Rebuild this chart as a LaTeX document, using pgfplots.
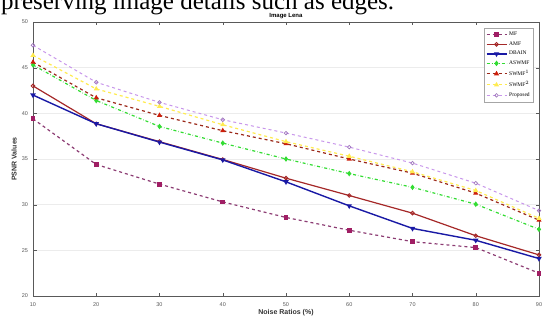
\documentclass[border=0pt]{standalone}
\usepackage{fontspec}
\setmainfont{Liberation Sans}
\newfontfamily\serif{Liberation Serif}
\usepackage{pgfplots}
\pgfplotsset{compat=1.18}
\definecolor{cMF}{RGB}{140,60,115}
\definecolor{cMFm}{RGB}{160,30,100}
\definecolor{cAMF}{RGB}{165,40,40}
\definecolor{cDB}{RGB}{25,25,165}
\definecolor{cAS}{RGB}{50,220,50}
\definecolor{cS1}{RGB}{155,40,25}
\definecolor{cS1m}{RGB}{205,30,10}
\definecolor{cS2}{RGB}{255,235,80}
\definecolor{cPr}{RGB}{200,150,235}
\begin{document}
\begin{tikzpicture}
\clip (0pt,0pt) rectangle (543pt,-320pt);
\node[anchor=base west, inner sep=0pt, font=\serif\fontsize{25}{25}\selectfont] at (1pt,-10pt) {preserving image details such as edges.};
\begin{axis}[
  at={(33pt,-296pt)}, anchor=south west,
  scale only axis, width=506pt, height=274pt,
  xmin=10, xmax=90, ymin=20, ymax=50,
  xtick={10,20,...,90}, ytick={20,25,...,50},
  tick align=inside, major tick length=3.5pt,
  axis line style={gray!70!black, line width=0.6pt},
  tick style={gray!70!black},
  ymajorgrids, grid style={gray!15, line width=0.5pt},
  /pgf/number format/assume math mode=true,
  tick label style={font=\fontsize{5.5}{6}\selectfont, text=gray!70!black},
  xticklabel style={yshift=-3.5pt},
  yticklabel style={xshift=-1.5pt},
  title={Image Lena},
  title style={font=\bfseries\fontsize{6}{7}\selectfont, inner sep=0pt, at={(0.5,1)}, anchor=south, yshift=-3pt},
  xlabel={Noise Ratios (\%)},
  ylabel={PSNR Values},
  label style={font=\bfseries\fontsize{7}{8}\selectfont, text=black!80},
  xlabel style={at={(axis description cs:0.5,-0.062)}, anchor=center},
  ylabel style={at={(axis description cs:-0.0375,0.5)}, anchor=center},
  legend style={at={(0.990,0.978)}, anchor=north east, draw=gray!70, line width=0.5pt,
     font=\serif\fontsize{5.5}{6.5}\selectfont, inner sep=2pt, row sep=0.4pt, cells={anchor=west}},
  legend image code/.code={\draw[mark repeat=2,mark phase=2] plot coordinates {(0pt,0pt) (10pt,0pt) (20pt,0pt)};},
  mark size=1.8pt,
]
\addplot[cMF, dashed, line width=1.2pt, mark=square*, mark options={solid, fill=cMFm, draw=cMFm}]
 coordinates {(10,39.4) (20,34.4) (30,32.25) (40,30.3) (50,28.6) (60,27.2) (70,25.95) (80,25.3) (90,22.5)};
\addlegendentry{MF}
\addplot[cAMF, solid, line width=1.2pt, mark=o, mark options={solid, draw=cAMF, line width=0.9pt}]
 coordinates {(10,43.0) (20,38.86) (30,36.9) (40,34.95) (50,32.9) (60,31.0) (70,29.07) (80,26.6) (90,24.5)};
\addlegendentry{AMF}
\addplot[cDB, solid, line width=1.4pt, mark=triangle*, mark options={solid, rotate=180, fill=cDB}]
 coordinates {(10,42.0) (20,38.86) (30,36.85) (40,34.9) (50,32.5) (60,29.87) (70,27.4) (80,26.1) (90,24.1)};
\addlegendentry{DBAIN}
\addplot[cAS, dash dot, line width=1.2pt, mark=diamond*, mark options={solid, fill=cAS}]
 coordinates {(10,45.3) (20,41.4) (30,38.56) (40,36.74) (50,35.0) (60,33.4) (70,31.9) (80,30.05) (90,27.3)};
\addlegendentry{ASWMF}
\addplot[cS1, dashed, line width=1.2pt, mark=triangle*, mark options={solid, fill=cS1m, draw=cS1m}]
 coordinates {(10,45.6) (20,41.7) (30,39.77) (40,38.1) (50,36.67) (60,35.0) (70,33.45) (80,31.26) (90,28.3)};
\addlegendentry{SWMF$^1$}
\addplot[cS2, dashed, line width=1.2pt, mark=triangle*, mark options={solid, fill=cS2, draw=cS2}]
 coordinates {(10,46.35) (20,42.67) (30,40.76) (40,38.75) (50,36.9) (60,35.3) (70,33.6) (80,31.55) (90,28.5)};
\addlegendentry{SWMF$^2$}
\addplot[cPr, dashed, line width=1.0pt, mark=o, mark options={solid, draw=cPr!80!black, line width=0.7pt}]
 coordinates {(10,47.45) (20,43.4) (30,41.2) (40,39.3) (50,37.84) (60,36.3) (70,34.55) (80,32.35) (90,29.35)};
\addlegendentry{Proposed}
\end{axis}
\end{tikzpicture}
\end{document}
